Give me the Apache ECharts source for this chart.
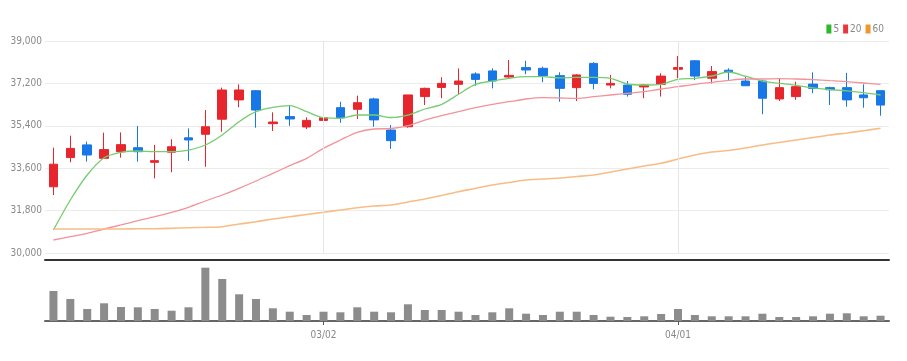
<!DOCTYPE html>
<html><head><meta charset="utf-8">
<script src="https://cdn.jsdelivr.net/npm/echarts@6/dist/echarts.min.js"></script>
<style>html,body{margin:0;padding:0;background:#fff}#c{width:907px;height:361px}</style>
</head><body><div id="c"></div>
<script>
const dates = ['2022/02/07','2022/02/08','2022/02/09','2022/02/10','2022/02/11','2022/02/14','2022/02/15','2022/02/16','2022/02/17','2022/02/18',
'2022/02/21','2022/02/22','2022/02/23','2022/02/24','2022/02/25','2022/02/28','2022/03/02','2022/03/03','2022/03/04','2022/03/07',
'2022/03/08','2022/03/10','2022/03/11','2022/03/14','2022/03/15','2022/03/16','2022/03/17','2022/03/18','2022/03/21','2022/03/22',
'2022/03/23','2022/03/24','2022/03/25','2022/03/28','2022/03/29','2022/03/30','2022/03/31','2022/04/01','2022/04/04','2022/04/05',
'2022/04/06','2022/04/07','2022/04/08','2022/04/11','2022/04/12','2022/04/13','2022/04/14','2022/04/15','2022/04/18','2022/04/19'];
const opens  = [32810,34050,34590,34020,34300,34470,33850,34280,34890,35040,35680,36500,36890,35490,35790,35350,35630,36170,36100,36540,
35220,35360,36640,37030,37160,37600,37730,37470,37870,37840,37530,37020,38050,37130,37130,37050,37160,37800,38160,37420,
37760,37300,37300,36540,36640,37170,37020,37020,36710,36890];
const closes = [33770,34440,34160,34390,34600,34300,33920,34510,34800,35360,36920,36920,36070,35560,35690,35630,35740,35740,36380,35650,
34770,36710,36990,37200,37300,37370,37300,37540,37770,37530,36990,37560,37200,37200,36740,37130,37510,37870,37510,37700,
37670,37100,36570,37020,37060,36990,36930,36500,36590,36280];
const lows   = [32460,33850,33880,33990,34050,33880,33170,33430,33910,33660,35150,36190,35320,35180,35400,35260,35340,35530,35690,35360,
34420,35320,36280,36570,36740,37100,36990,37440,37590,37250,36420,36450,36950,36990,36640,36570,36640,37420,37340,37200,
37340,37090,35890,36450,36500,36780,36280,36210,36170,35830];
const highs  = [34470,34980,34730,35110,35120,35390,34590,34830,35290,36070,37020,37160,36920,35970,36240,35760,36360,36420,36680,36590,
35430,36710,37020,37460,37840,37670,37840,38190,38160,37910,37670,37590,38100,37560,37300,37160,37630,38360,38190,37940,
37840,37480,37340,37390,37270,37670,37060,37650,37160,36900];
const volumes = [300000,220000,120000,177000,140000,137000,120000,103000,137000,533000,420000,267000,220000,127000,93000,60000,93000,87000,137000,93000,
87000,167000,110000,110000,93000,60000,87000,127000,73000,60000,93000,93000,60000,43000,40000,47000,70000,120000,60000,47000,
47000,47000,73000,40000,40000,47000,73000,77000,47000,53000];
const ma5  = [30976,32250,33311,34045,34275,34330,34300,34300,34372,34585,35009,35574,35998,36185,36253,35998,35743,35718,35858,35858,
35752,35858,36113,36312,36737,37161,37301,37416,37484,37484,37437,37458,37458,37416,37174,37132,37161,37374,37416,37514,
37683,37505,37301,37204,37119,37013,36932,36885,36805,36707];
const ma20 = [30552,30692,30836,31019,31189,31371,31541,31728,31940,32207,32462,32747,33056,33383,33706,34020,34444,34797,35124,35264,
35285,35404,35646,35828,35998,36168,36312,36423,36537,36593,36580,36567,36635,36707,36779,36847,36962,37059,37161,37246,
37331,37386,37386,37399,37386,37357,37314,37272,37217,37161];
const ma60 = [31019,31019,31019,31019,31019,31030,31032,31049,31070,31091,31116,31231,31329,31443,31541,31634,31728,31825,31923,31995,
32038,32165,32292,32441,32602,32738,32887,32993,33099,33141,33184,33247,33311,33438,33566,33693,33808,33990,34160,34287,
34351,34457,34585,34691,34797,34903,35009,35094,35192,35294];
const maNames = ['5','20','60'];
const maColors = ['#2db82d','#e8383d','#f0962e'];
const maLineColors = ['#74cd6e','#f2929a','#f8bd86'];
const monthMarks = ['2022/03/02','2022/04/01'];

const candleData = dates.map((d,i)=>[opens[i],closes[i],lows[i],highs[i]]);
const isMonthStart = (i)=> i>0 && dates[i].slice(5,7)!==dates[i-1].slice(5,7);
const font = "'Liberation Sans Narrow','DejaVu Sans Condensed','Liberation Sans',sans-serif";

const chart = echarts.init(document.getElementById('c'));
chart.setOption({
  animation:false,
  backgroundColor:'#fff',
  legend:{
    data: maNames.map((n,i)=>({name:n, icon:'rect', itemStyle:{color:maColors[i]}})),
    right:18, top:19, itemWidth:5, itemHeight:9, itemGap:4,
    textStyle:{color:'#888', fontSize:10, fontFamily:font, padding:[0,0,0,-3]}
  },
  grid:[
    {left:45, right:18, top:41, height:212},
    {left:45, right:18, top:261, height:60}
  ],
  xAxis:[
    {type:'category', data:dates, gridIndex:0, boundaryGap:true, offset:7,
     axisLine:{show:true, lineStyle:{color:'#333', width:2}},
     axisTick:{show:false}, axisLabel:{show:false}, splitLine:{show:false}},
    {type:'category', data:dates, gridIndex:1, boundaryGap:true,
     axisLine:{show:true, lineStyle:{color:'#666', width:2}},
     axisTick:{show:true, alignWithLabel:true, length:4, interval:(i)=>isMonthStart(i), lineStyle:{color:'#555'}},
     axisLabel:{interval:(i)=>isMonthStart(i), formatter:(v)=>v.slice(5), color:'#888', fontSize:10, fontFamily:font, margin:9},
     splitLine:{show:false}}
  ],
  yAxis:[
    {type:'value', gridIndex:0, min:30000, max:39000, interval:1800,
     axisLine:{show:false}, axisTick:{show:false},
     axisLabel:{color:'#888', fontSize:10, fontFamily:font, margin:3, formatter:(v)=>v.toLocaleString('en-US')},
     splitLine:{lineStyle:{color:'#ececec', width:1}}},
    {type:'value', gridIndex:1, min:0, max:600000,
     axisLine:{show:false}, axisTick:{show:false}, axisLabel:{show:false}, splitLine:{show:false}}
  ],
  series:[
    {type:'candlestick', name:'price', xAxisIndex:0, yAxisIndex:0, data:candleData, barWidth:9,
     itemStyle:{color:'#e6262c', color0:'#1877e6', borderColor:'#e6262c', borderColor0:'#1877e6', borderWidth:1},
     markLine:{silent:true, symbol:'none', label:{show:false},
       lineStyle:{color:'#e6e6e6', type:'solid', width:1},
       data: monthMarks.map(m=>({xAxis:m}))}},
    {type:'line', name:'5', data:ma5, xAxisIndex:0, yAxisIndex:0, showSymbol:false, smooth:0.3,
     lineStyle:{color:maLineColors[0], width:1.3}, itemStyle:{color:maColors[0]}},
    {type:'line', name:'20', data:ma20, xAxisIndex:0, yAxisIndex:0, showSymbol:false, smooth:0.3,
     lineStyle:{color:maLineColors[1], width:1.3}, itemStyle:{color:maColors[1]}},
    {type:'line', name:'60', data:ma60, xAxisIndex:0, yAxisIndex:0, showSymbol:false, smooth:0.3,
     lineStyle:{color:maLineColors[2], width:1.6}, itemStyle:{color:maColors[2]}},
    {type:'bar', name:'volume', data:volumes, xAxisIndex:1, yAxisIndex:1, barWidth:8,
     itemStyle:{color:'#8c8c8c'}}
  ]
});
</script></body></html>
